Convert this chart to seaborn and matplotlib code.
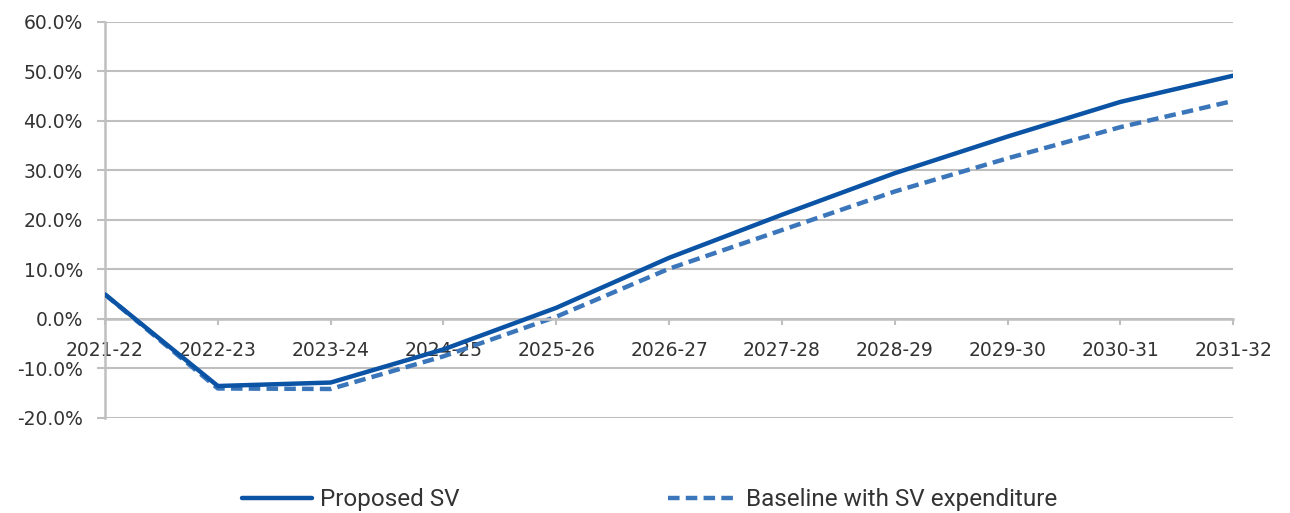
import matplotlib
matplotlib.use("Agg")
import matplotlib.pyplot as plt
import seaborn as sns
import pandas as pd
from matplotlib.ticker import FuncFormatter, FixedLocator

years = ["2021-22", "2022-23", "2023-24", "2024-25", "2025-26", "2026-27",
         "2027-28", "2028-29", "2029-30", "2030-31", "2031-32"]
proposed_sv = [4.9, -13.6, -12.9, -6.2, 2.2, 12.3, 21.0, 29.4, 36.8, 43.8, 49.1]
baseline_sv_exp = [4.9, -14.1, -14.2, -7.6, 0.4, 10.1, 17.9, 25.7, 32.4, 38.7, 44.0]
y_ticks = [-20, -10, 0, 10, 20, 30, 40, 50, 60]

solid_color = "#0B53A4"
dash_color = "#3B76BA"
grid_color = "#BFBFBF"
text_color = "#333333"

df = pd.DataFrame({
    "pos": list(range(len(years))) * 2,
    "value": proposed_sv + baseline_sv_exp,
    "series": ["Proposed SV"] * len(years) + ["Baseline with SV expenditure"] * len(years),
})

sns.set_theme(style="white")
plt.rcParams["font.family"] = ["DejaVu Sans"]

fig = plt.figure(figsize=(12.9, 5.13), dpi=100)
ax = fig.add_axes([0.0814, 0.1858, 0.8746, 0.7719])

for y in y_ticks:
    ax.axhline(y, color=grid_color, lw=1.5, zorder=0)

sns.lineplot(data=df[df.series == "Proposed SV"], x="pos", y="value",
             color=solid_color, lw=3.2, ax=ax, label="Proposed SV", zorder=3)
sns.lineplot(data=df[df.series == "Baseline with SV expenditure"], x="pos", y="value",
             color=dash_color, lw=3.2, ax=ax, label="Baseline with SV expenditure",
             zorder=2)
ax.lines[-1].set_dashes((3.6, 1.8))

ax.set_xlim(0, len(years) - 1)
ax.set_ylim(-20, 60)
ax.yaxis.set_major_locator(FixedLocator(y_ticks))
ax.yaxis.set_major_formatter(FuncFormatter(lambda v, p: f"{v:.1f}%"))
ax.set_xticks(range(len(years)))
ax.set_xticklabels(years)
ax.set_xlabel("")
ax.set_ylabel("")

for side in ["top", "right"]:
    ax.spines[side].set_visible(False)
ax.spines["left"].set_color(grid_color)
ax.spines["left"].set_linewidth(1.8)
ax.spines["bottom"].set_position(("data", 0))
ax.spines["bottom"].set_color(grid_color)
ax.spines["bottom"].set_linewidth(1.8)

ax.tick_params(axis="y", direction="out", length=6, width=1.5, color=grid_color,
               pad=10, labelsize=13.5, labelcolor=text_color, left=True)
ax.tick_params(axis="x", direction="out", length=4, width=1.5, color=grid_color,
               pad=12, labelsize=13.5, labelcolor=text_color, bottom=True)

ax.get_legend().remove()
handles, labels = ax.get_legend_handles_labels()
handles[1].set_dashes((2.6, 1.4))
fig.legend(handles, labels, loc="center left", bbox_to_anchor=(0.178, 0.026), ncol=2,
           frameon=False, handlelength=2.9, handletextpad=0.3,
           columnspacing=8.6, labelcolor=text_color, borderpad=0.0,
           prop={"family": "Roboto", "size": 17.5})

fig.savefig("out.png", dpi=100)
